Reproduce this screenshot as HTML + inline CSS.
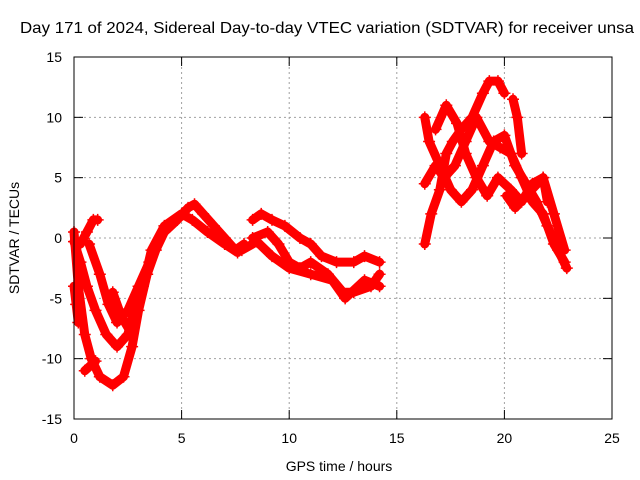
<!DOCTYPE html>
<html><head><meta charset="utf-8"><style>
body{margin:0;background:#fff}
svg{display:block;font-family:"Liberation Sans",sans-serif;font-size:14px}
</style></head><body>
<svg id="chart" width="640" height="480">
<rect width="640" height="480" fill="#fff"/>
<text x="20" y="33" textLength="614" lengthAdjust="spacingAndGlyphs" font-size="16">Day 171 of 2024, Sidereal Day-to-day VTEC variation (SDTVAR) for receiver unsa</text>
<g id="grid"></g>
<g id="axes"></g>
<g id="series"></g>
<rect x="74" y="57" width="538" height="362" fill="none" stroke="#000"/>
<text x="339" y="471" text-anchor="middle">GPS time / hours</text>
<text transform="translate(19,238) rotate(-90)" text-anchor="middle">SDTVAR / TECUs</text>
</svg>
<script>
const xTicks=[0,5,10,15,20,25];
const yTicks=[-15,-10,-5,0,5,10,15];
const sA=[[0,0.5],[0.2,-4],[0.5,-8],[0.8,-10],[1.2,-11.5],[1.8,-12.2],[2.3,-11.5],[2.7,-9],[3.0,-6],[3.4,-3],[3.8,-1],[4.2,0.5],[4.8,1.5],[5.3,2.5],[5.6,2.8],[6.0,2],[6.5,1],[7.0,0],[7.5,-1],[7.9,-0.5]];
const sB=[[0,-0.3],[0.3,-2],[0.6,-4],[1.0,-6],[1.5,-8],[2.0,-9],[2.5,-8],[2.8,-6],[3.2,-4],[3.6,-1],[4.2,1],[5.0,2],[5.5,1.5],[6.2,0.5],[7,-0.5],[7.6,-1.2]];
const sC=[[0,-4],[0.1,-5.5],[0.2,-7]];
const sD=[[0.3,-0.5],[0.6,0.5],[0.9,1.5],[1.1,1.5]];
const sE=[[0.7,-0.5],[1.2,-3],[1.6,-5.5],[2.0,-7],[2.5,-6],[3.0,-4],[3.5,-2]];
const sF=[[1.8,-4.5],[2.2,-6.5],[2.7,-8]];
const sG=[[0.5,-11],[1.0,-10.2]];
const sH=[[8.3,1.5],[8.7,2],[9.2,1.5],[9.8,1],[10.5,0],[11,-0.5],[11.5,-1.5],[12.2,-2],[13,-2],[13.5,-1.5],[14.2,-2]];
const sI=[[8.3,0],[9,0.5],[9.5,-0.5],[10,-2],[10.5,-2.5],[11,-2],[11.8,-3],[12.5,-4.5],[13,-4.5],[13.8,-4],[14.2,-3]];
const sJ=[[7.8,-1],[8.5,-0.3],[9.2,-1.5],[10,-2.5],[11,-3],[12,-3.5],[12.6,-5],[13.5,-3.5],[14.2,-4]];
const sK=[[16.3,-0.5],[16.6,2],[17,4],[17.3,7],[17.6,8],[18,9],[18.5,10],[19,12],[19.3,13],[19.7,13],[20,12]];
const sL=[[16.3,4.5],[16.8,6],[17.2,5],[17.7,6],[18.2,8],[18.7,10],[19.3,8],[19.8,7.5],[20.3,7],[20.8,5],[21.3,3],[21.8,2],[22.3,-0.5],[22.8,-2]];
const sM=[[16.3,10],[16.5,8],[17,6],[17.5,4],[18,3],[18.5,4],[19,6],[19.5,8],[20,8.5],[20.5,6],[21,4.5],[21.5,3],[22,1],[22.5,-1],[22.9,-2.5]];
const sN=[[16.8,9],[17.3,11],[17.8,9.5],[18.2,7],[18.7,5],[19.2,3.5],[19.7,5],[20.3,4],[20.8,3],[21.3,4.5],[21.8,5],[22.3,2],[22.8,-1]];
const sO=[[20.1,3.5],[20.5,2.5],[21,3.5],[21.8,5],[22,3]];
const sP=[[20.4,11.5],[20.6,10],[20.8,7]];
const allSeries=[sA,sB,sC,sD,sE,sF,sG,sH,sI,sJ,sK,sL,sM,sN,sO,sP];
const NS="http://www.w3.org/2000/svg";
const X=v=>74+v*538/25, Y=v=>238-v*362/30;
function mk(t,a,p){const e=document.createElementNS(NS,t);for(const k in a)e.setAttribute(k,a[k]);p.appendChild(e);return e;}
const grid=document.getElementById('grid'),axes=document.getElementById('axes'),ser=document.getElementById('series');
xTicks.forEach(t=>{
 if(t>0&&t<25){const g=mk('line',{x1:X(t),x2:X(t),y1:57,y2:419,stroke:'#a0a0a0','stroke-dasharray':'2,3'},grid);
 
 }
 mk('line',{x1:X(t),x2:X(t),y1:419,y2:410,stroke:'#000'},axes);
 mk('line',{x1:X(t),x2:X(t),y1:57,y2:66,stroke:'#000'},axes);
 const l=mk('text',{x:X(t),y:443,'text-anchor':'middle'},axes);l.textContent=t;
 
 
});
yTicks.forEach(t=>{
 if(t>-15&&t<15){const g=mk('line',{x1:74,x2:612,y1:Y(t),y2:Y(t),stroke:'#a0a0a0','stroke-dasharray':'2,3'},grid);
 
 }
 mk('line',{x1:74,x2:83,y1:Y(t),y2:Y(t),stroke:'#000'},axes);
 mk('line',{x1:612,x2:603,y1:Y(t),y2:Y(t),stroke:'#000'},axes);
 const l=mk('text',{x:62,y:Y(t)+5,'text-anchor':'end'},axes);l.textContent=t;
 
 
});
allSeries.forEach(s=>{
 const g=mk('g',{},ser);
 
 
 mk('polyline',{points:s.map(p=>X(p[0])+','+Y(p[1])).join(' '),fill:'none',stroke:'#f00','stroke-width':9,'stroke-linejoin':'round','stroke-linecap':'round'},g);
 s.forEach(p=>{const x=X(p[0]),y=Y(p[1]);
  mk('path',{d:`M${x-6},${y}H${x+6}M${x},${y-6}V${y+6}`,stroke:'#f00','stroke-width':1.5},g);});
});
</script>
</body></html>
